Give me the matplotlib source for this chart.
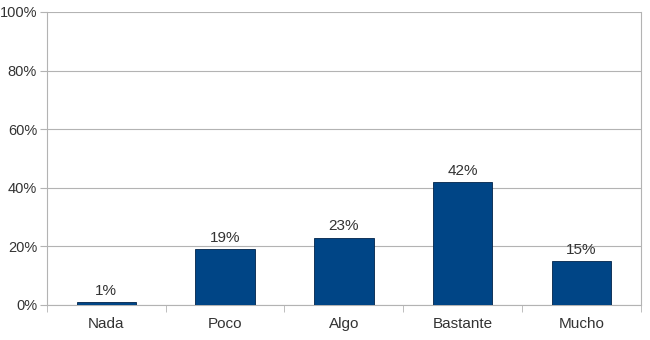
import matplotlib
matplotlib.use('Agg')
import matplotlib.pyplot as plt
import numpy as np

# data
categories = ['Nada', 'Poco', 'Algo', 'Bastante', 'Mucho']
values = [1, 19, 23, 42, 15]
y_ticks = [0, 20, 40, 60, 80, 100]

plt.rcParams['font.family'] = ['Liberation Sans', 'DejaVu Sans']

fig = plt.figure(figsize=(6.5, 3.4), dpi=100)
ax = fig.add_axes([0.072, 0.103, 0.914, 0.862])

x = np.arange(len(categories))
ax.bar(x, values, width=0.5, color='#004586', edgecolor='#00234a', linewidth=0.6, zorder=3)

for xi, v in zip(x, values):
    ax.annotate('%d%%' % v, (xi, v), xytext=(0, 3), textcoords='offset points',
                ha='center', va='bottom', fontsize=11, color='#333333')

ax.set_xlim(-0.5, len(categories) - 0.5)
ax.set_ylim(0, 100)
ax.set_yticks(y_ticks)
ax.set_yticklabels(['%d%%' % t for t in y_ticks], fontsize=10.5, color='#333333')
ax.set_xticks(x)
ax.set_xticklabels(categories, fontsize=11, color='#333333')
ax.tick_params(axis='x', length=0, pad=9)
ax.set_xticks(np.arange(-0.5, len(categories)), minor=True)
ax.tick_params(axis='x', which='minor', length=5, color='#b3b3b3', direction='out')
ax.tick_params(axis='y', length=5, color='#b3b3b3', pad=2)

ax.grid(axis='y', color='#b3b3b3', linewidth=0.8, zorder=0)
for side in ['left', 'right', 'bottom']:
    ax.spines[side].set_color('#b3b3b3')
ax.spines['top'].set_visible(False)

fig.savefig('out.png', dpi=100)
